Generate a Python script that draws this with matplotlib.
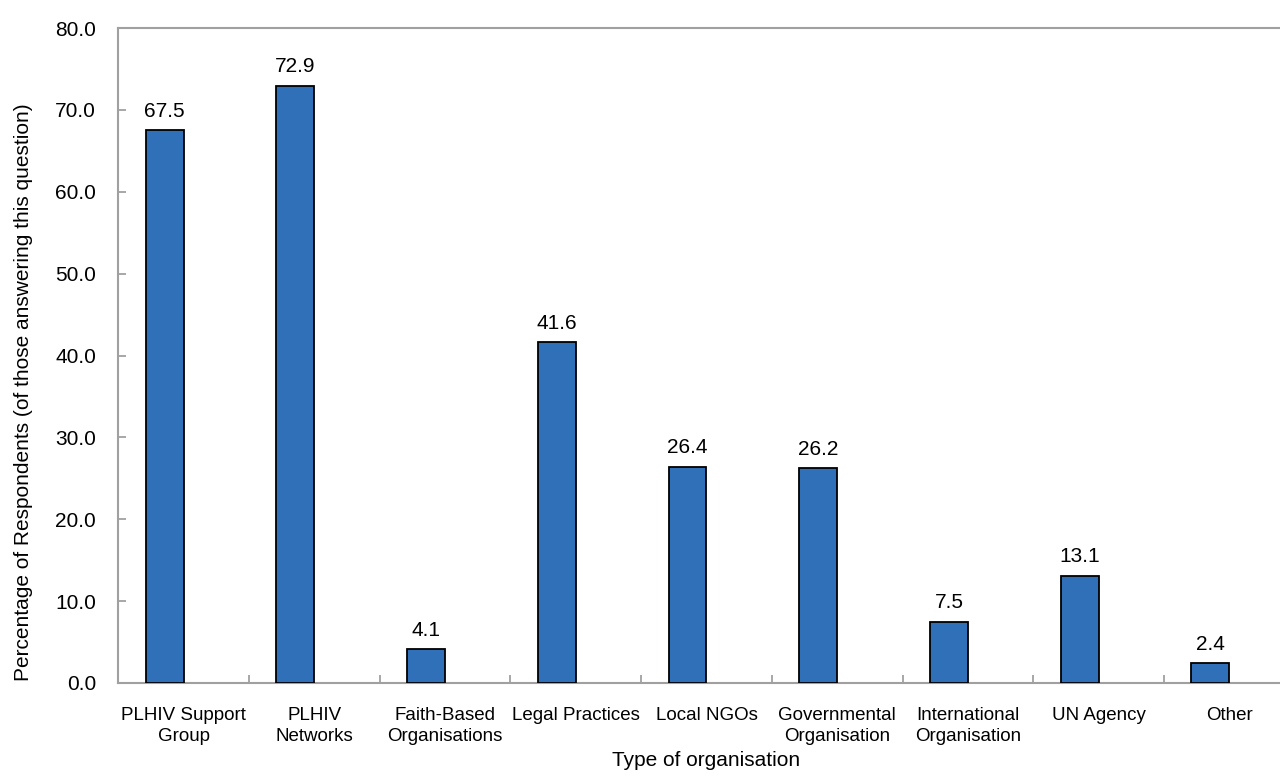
import numpy as np
import matplotlib
matplotlib.use('Agg')
import matplotlib.pyplot as plt

categories = ['PLHIV Support\nGroup', 'PLHIV\nNetworks', 'Faith-Based\nOrganisations',
              'Legal Practices', 'Local NGOs', 'Governmental\nOrganisation',
              'International\nOrganisation', 'UN Agency', 'Other']
values = [67.5, 72.9, 4.1, 41.6, 26.4, 26.2, 7.5, 13.1, 2.4]
y_ticks = [0, 10, 20, 30, 40, 50, 60, 70, 80]

plt.rcParams['font.family'] = ['Liberation Sans', 'DejaVu Sans']

fig = plt.figure(figsize=(12.8, 7.76), dpi=100)
# axes run past the right edge of the picture, as in the original
ax = fig.add_axes([118.3 / 1280, 1 - 683 / 776, (1294.6 - 118.3) / 1280, (683 - 28) / 776])

x = np.arange(len(categories))
bar_w = 0.29
ax.bar(x - bar_w / 2, values, width=bar_w, color='#3070B8',
       edgecolor='black', linewidth=1.3, zorder=3)

for xi, v in zip(x - bar_w / 2, values):
    ax.annotate(f'{v:.1f}', (xi, v), xytext=(0, 7), textcoords='offset points',
                ha='center', va='bottom', fontsize=15)

ax.set_xlim(-0.5, len(categories) - 0.5)
ax.set_ylim(0, 80)
ax.set_yticks(y_ticks)
ax.set_yticklabels([f'{t:.1f}' for t in y_ticks], fontsize=15)
ax.set_xticks(x)
ax.set_xticklabels(categories, fontsize=13.5, linespacing=1.3)
ax.set_xticks(np.arange(len(categories)) + 0.5, minor=True)

ax.tick_params(axis='x', which='major', length=0, pad=17)
ax.tick_params(axis='x', which='minor', direction='in', length=6, width=1.3, color='#a0a0a0')
ax.tick_params(axis='y', direction='in', length=6, width=1.3, color='#a0a0a0', pad=16)

for s in ['left', 'bottom', 'top', 'right']:
    ax.spines[s].set_color('#a0a0a0')
    ax.spines[s].set_linewidth(1.5)

ax.set_xlabel('Type of organisation', fontsize=15, labelpad=5)
ax.set_ylabel('Percentage of Respondents (of those answering this question)', fontsize=15)
ax.yaxis.set_label_coords(-0.0725, 0.444)

fig.savefig('out.png', dpi=100)
